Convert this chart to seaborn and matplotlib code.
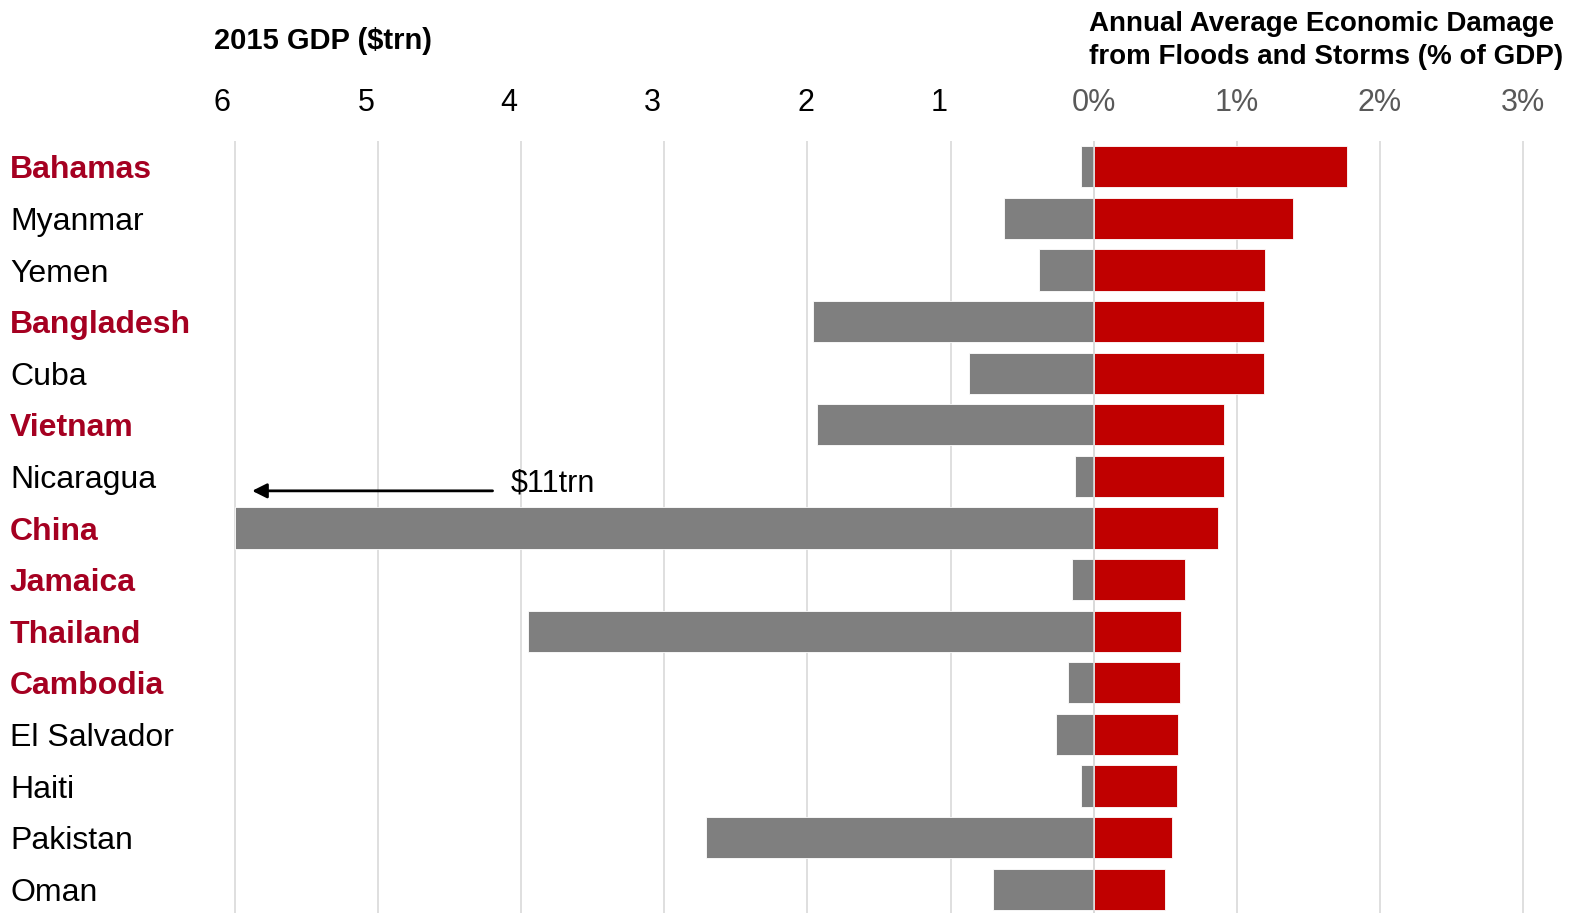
import numpy as np
import pandas as pd
import matplotlib
matplotlib.use("Agg")
import matplotlib.pyplot as plt
from matplotlib import transforms
import seaborn as sns

# ---------------- data ----------------
countries = ["Bahamas", "Myanmar", "Yemen", "Bangladesh", "Cuba", "Vietnam",
             "Nicaragua", "China", "Jamaica", "Thailand", "Cambodia",
             "El Salvador", "Haiti", "Pakistan", "Oman"]
highlight = [True, False, False, True, False, True, False, True, True, True,
             True, False, False, False, False]
damage_pct = [1.77, 1.39, 1.20, 1.19, 1.19, 0.91, 0.91, 0.87, 0.64, 0.61,
              0.60, 0.59, 0.58, 0.55, 0.50]
gdp_trn = [0.09, 0.63, 0.38, 1.96, 0.87, 1.93, 0.13, 11.0, 0.15, 3.95,
           0.18, 0.26, 0.09, 2.71, 0.70]
gdp_cap = 6.0
tick_values = [-6, -5, -4, -3, -2, -1, 0, 1, 2, 3]
tick_labels = ["6", "5", "4", "3", "2", "1", "0%", "1%", "2%", "3%"]
china_label = "$11trn"

# ---------------- style ----------------
sns.set_style("white")
plt.rcParams["font.family"] = ["Liberation Sans", "DejaVu Sans"]
plt.rcParams["text.color"] = "black"

GRAY = "#7f7f7f"
RED = "#c00000"
LABEL_RED = "#a50021"

W, H = 1571, 913
fig = plt.figure(figsize=(W / 100, H / 100), dpi=100)
ax_left_px, ax_right_px = 227.8, 1530.2
ax_top_px, ax_bot_px = 141, 915
ax = fig.add_axes([ax_left_px / W, (H - ax_bot_px) / H,
                   (ax_right_px - ax_left_px) / W, (ax_bot_px - ax_top_px) / H])

df = pd.DataFrame({
    "country": countries,
    "gdp_neg": -np.minimum(np.array(gdp_trn), gdp_cap),
    "damage": damage_pct,
})

ax.set_axisbelow(True)
sns.barplot(data=df, x="gdp_neg", y="country", color=GRAY, saturation=1,
            width=0.8, edgecolor="white", linewidth=0.6, ax=ax)
sns.barplot(data=df, x="damage", y="country", color=RED, saturation=1,
            width=0.8, edgecolor="white", linewidth=0.6, ax=ax)

ax.set_xlim(-6.05, 3.05)
ax.set_ylim(len(countries) - 0.5, -0.5)
ax.set_xlabel("")
ax.set_ylabel("")
for s in ax.spines.values():
    s.set_visible(False)

ax.xaxis.grid(True, color="#d9d9d9", linewidth=1.2)
ax.yaxis.grid(False)
ax.axvline(0, color="#d9d9d9", linewidth=1.2, zorder=3)

ax.xaxis.tick_top()
ax.set_xticks(tick_values, tick_labels)
ax.tick_params(axis="x", length=0, pad=16.5, labelsize=22)
ax.tick_params(axis="y", left=False, labelleft=False)
offsets_px = [-13, -12, -12, -12, -2, -11, 0, 0, 0, 0]
for lbl, v, dx in zip(ax.get_xticklabels(), tick_values, offsets_px):
    lbl.set_color("black" if v < 0 else "#595959")
    lbl.set_transform(lbl.get_transform() +
                      transforms.ScaledTranslation(dx / 100, 0, fig.dpi_scale_trans))

# country labels
trans = transforms.blended_transform_factory(fig.transFigure, ax.transData)
for i, (name, hl) in enumerate(zip(countries, highlight)):
    ax.text(10 / W, i, name, transform=trans, ha="left", va="center_baseline",
            fontsize=23, fontweight="bold" if hl else "normal",
            color=LABEL_RED if hl else "black", clip_on=False)

# titles
fig.text(214 / W, 1 - 41 / H, "2015 GDP ($trn)", ha="left", va="center",
         fontsize=21, fontweight="bold", color="black")
fig.text(1089 / W, 1 - 40.5 / H,
         "Annual Average Economic Damage\nfrom Floods and Storms (% of GDP)",
         ha="left", va="center", fontsize=20, fontweight="bold",
         linespacing=1.32, color="black")

# China annotation
ax.annotate("", xy=(-5.88, 6.28), xytext=(-4.2, 6.28),
            arrowprops=dict(arrowstyle="-|>", color="black", lw=2,
                            mutation_scale=22, shrinkA=0, shrinkB=0))
ax.text(-4.07, 6.14, china_label, ha="left", va="center", fontsize=22,
        color="black")

fig.savefig("out.png", dpi=100)
